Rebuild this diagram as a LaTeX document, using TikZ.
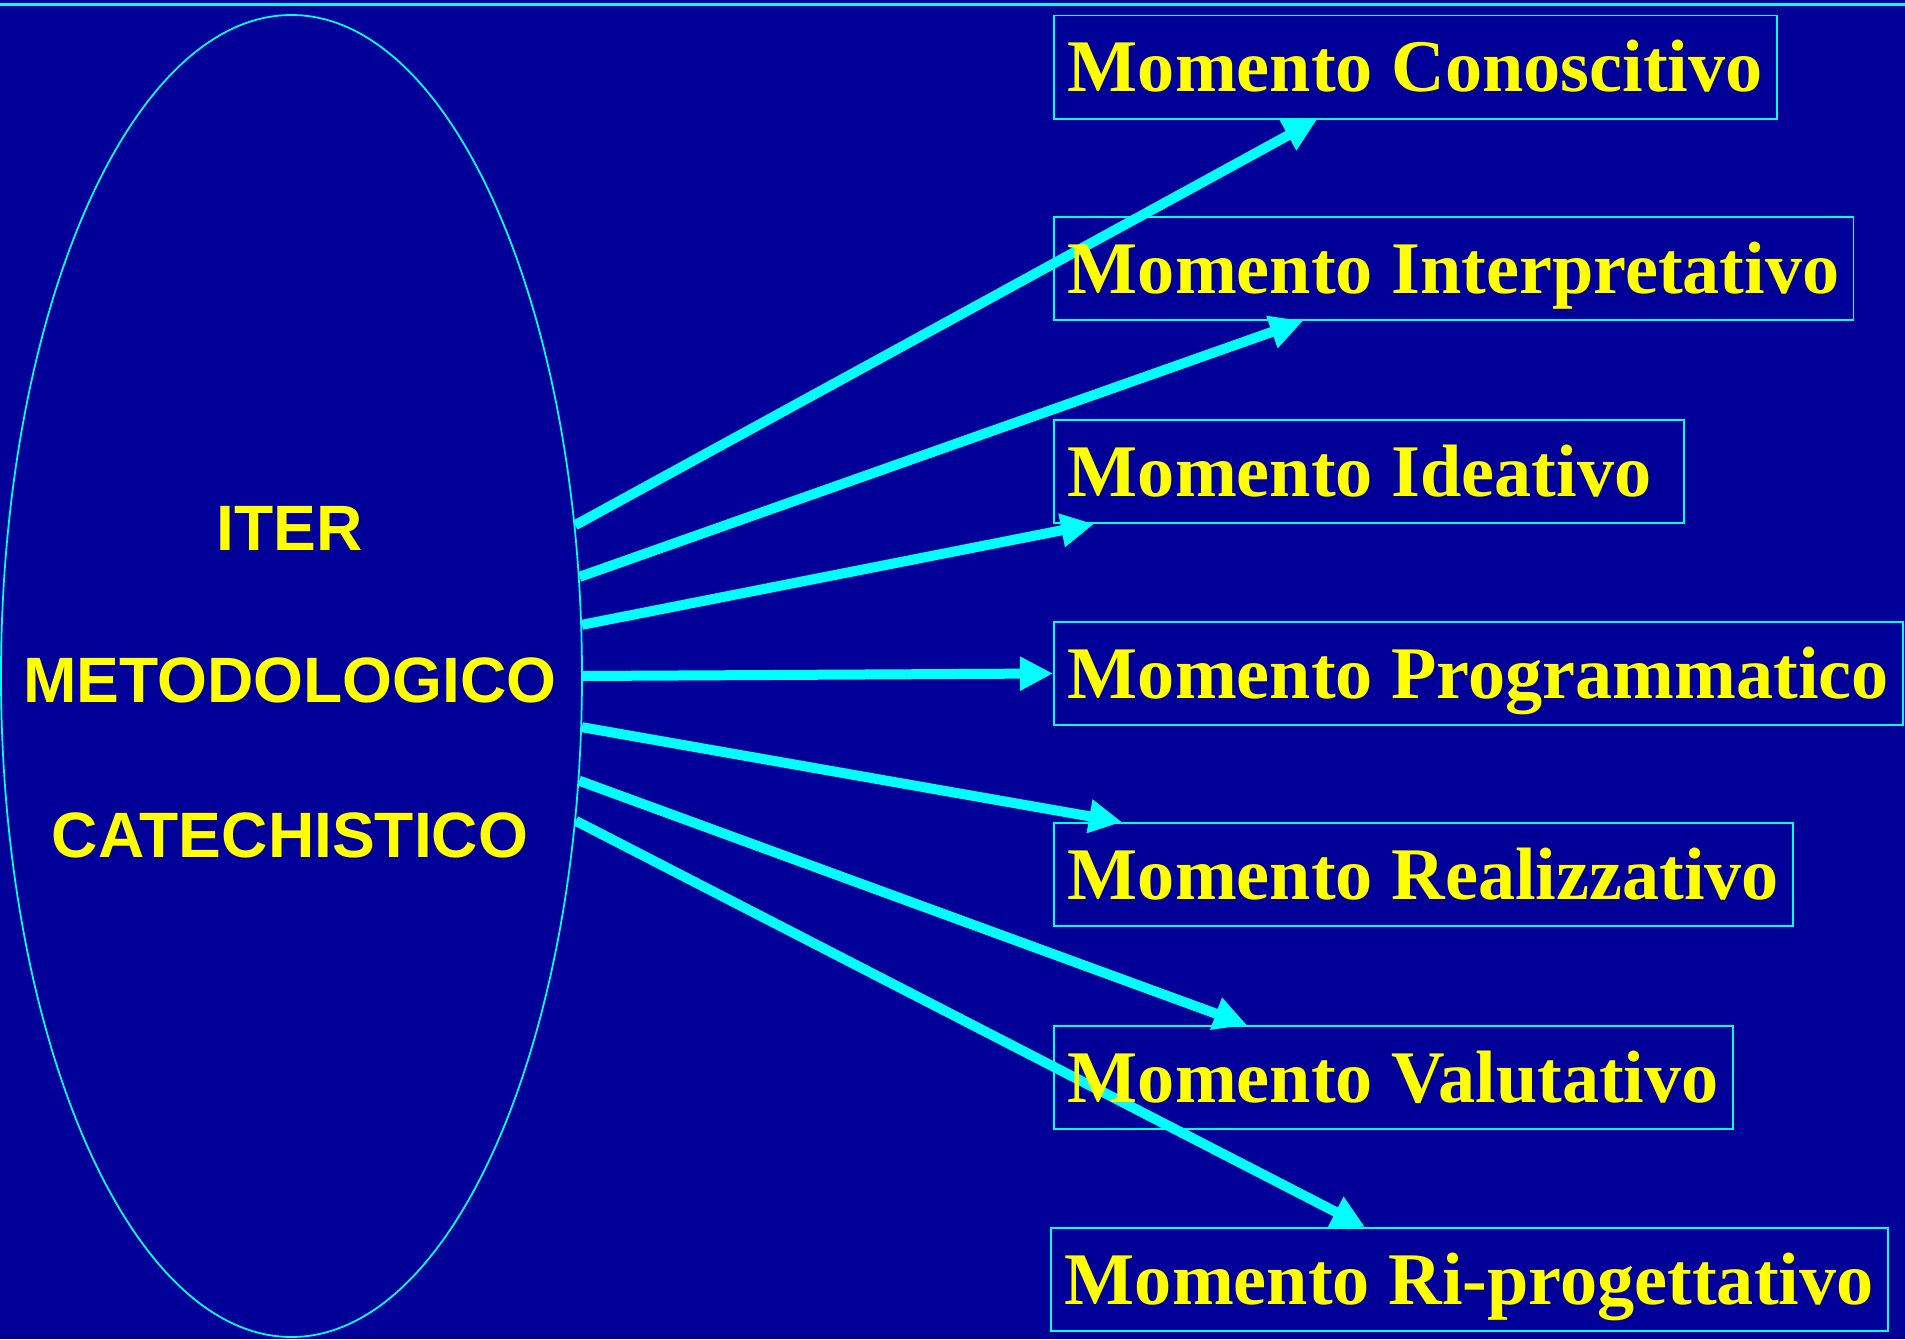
\documentclass[tikz,border=0pt]{standalone}
\usepackage{fontspec}
\setmainfont{Liberation Serif}
\newfontfamily\arialfont{Liberation Sans}
\usetikzlibrary{shapes.geometric,arrows.meta}
\definecolor{sfondo}{HTML}{000099}
\definecolor{ciano}{HTML}{00FFFF}
\definecolor{giallo}{HTML}{FFFF00}
\pgfdeclarelayer{background}
\pgfsetlayers{background,main}

\begin{document}
\begin{tikzpicture}[
    momento/.style={draw=ciano, line width=0.5pt, text=giallo, anchor=north west,
      font=\fontsize{21.12}{25}\selectfont\bfseries, minimum height=10.32mm,
      inner xsep=1.4mm, inner ysep=0pt, text height=6.48mm, text depth=1.5mm},
    titolo/.style={text=giallo, font=\arialfont\fontsize{18.25}{21}\selectfont\bfseries},
    freccia/.style={ciano, line width=1mm, -{Triangle[length=3.3mm, width=3.2mm]}}
  ]
    \useasboundingbox (0,0) rectangle (19.05,-13.39);

    % Ellipse with the title
    \node[ellipse, draw=ciano, line width=0.5pt, minimum width=5.81cm,
      minimum height=13.22cm, inner sep=0pt] (iter) at (2.915,-6.76) {};
    \node[titolo] (iterA) at (2.90,-5.28) {ITER};
    \node[titolo] (iterB) at (2.90,-6.80) {METODOLOGICO};
    \node[titolo] (iterC) at (2.90,-8.35) {CATECHISTICO};

    % The seven moments
    \node[momento] (conoscitivo) at (10.53,-0.146) {Momento Conoscitivo};
    \node[momento] (interpretativo) at (10.53,-2.16) {Momento Interpretativo};
    \node[momento] (ideativo) at (10.53,-4.19) {Momento Ideativo\kern.25em};
    \node[momento] (programmatico) at (10.53,-6.21) {Momento Programmatico};
    \node[momento] (realizzativo) at (10.53,-8.22) {Momento Realizzativo};
    \node[momento] (valutativo) at (10.53,-10.25) {Momento Valutativo};
    \node[momento] (riprogettativo) at (10.50,-12.27) {Momento Ri-progettativo};

    \begin{pgfonlayer}{background}
      \fill[sfondo] (0,0) rectangle (19.05,-13.39);
      \draw[ciano, line width=0.3mm] (0,-0.045) -- (19.05,-0.045);

      % Arrows from the ellipse to the boxes
      \draw[freccia] (iter.28.6) -- ([xshift=2.64cm]conoscitivo.south west);
      \draw[freccia] (iter.19.3) -- ([xshift=2.50cm]interpretativo.south west);
      \draw[freccia] (iter.10.9) -- ([xshift=0.41cm]ideativo.south west);
      \draw[freccia] (iter.0) -- (programmatico.west);
      \draw[freccia] (iter.-10.1) -- ([xshift=0.69cm]realizzativo.north west);
      \draw[freccia] (iter.-20) -- ([xshift=1.94cm]valutativo.north west);
      \draw[freccia] (iter.-27.5) -- ([xshift=3.15cm]riprogettativo.north west);
    \end{pgfonlayer}
  \end{tikzpicture}
\end{document}
